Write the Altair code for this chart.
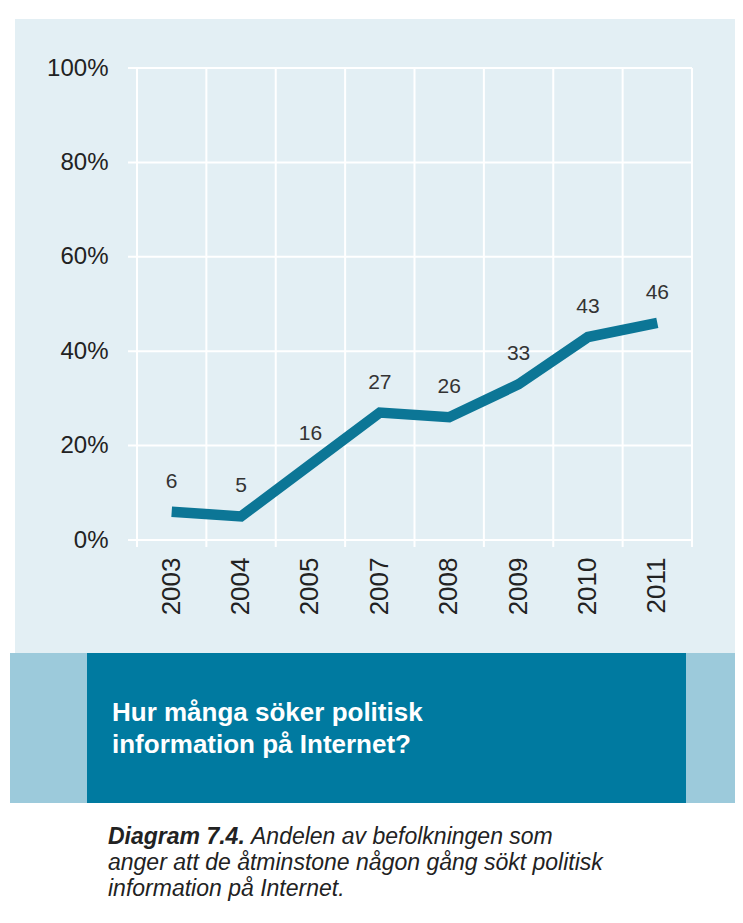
import altair as alt
import pandas as pd

years = ["2003", "2004", "2005", "2007", "2008", "2009", "2010", "2011"]
values = [6, 5, 16, 27, 26, 33, 43, 46]
y_ticks = [0, 20, 40, 60, 80, 100]
title_lines = ["Hur många söker politisk", "information på Internet?"]
caption_bold = "Diagram 7.4."
caption_first = "Andelen av befolkningen som"
caption_rest = ["anger att de åtminstone någon gång sökt politisk", "information på Internet."]

df = pd.DataFrame({"year": years, "value": values})
ticks_df = pd.DataFrame({"tick": y_ticks})
last_df = df.tail(1)

W, H = 555, 472
FONT = "Liberation Sans"
PANEL = "#e3eff4"
STRIP = "#9ccadb"
BAND = "#007aa0"
LINE = "#0c7696"
TXT = "#222222"

x_axis = alt.Axis(title=None, labelAngle=-90, ticks=False, domain=False, grid=False,
                  labelPadding=17, labelFontSize=26, labelColor=TXT, labelFont=FONT, zindex=1)
x_scale = alt.Scale(type="band", paddingInner=0, paddingOuter=0)
y_scale = alt.Scale(domain=[0, 100], nice=False)
y_axis = alt.Axis(title=None, values=y_ticks, ticks=False, domain=False, grid=False,
                  labelExpr="datum.value + '%'", labelPadding=29, labelFontSize=24,
                  labelColor=TXT, labelFont=FONT, zindex=1)

one = alt.Data(values=[{}])

panel = alt.Chart(one).mark_rect(color=PANEL).encode(
    x=alt.value(-122), x2=alt.value(598), y=alt.value(-49), y2=alt.value(585))
strip = alt.Chart(one).mark_rect(color=STRIP).encode(
    x=alt.value(-127), x2=alt.value(598), y=alt.value(585), y2=alt.value(735))
band = alt.Chart(one).mark_rect(color=BAND).encode(
    x=alt.value(-50), x2=alt.value(549), y=alt.value(585), y2=alt.value(735))

vrules = alt.Chart(df).mark_rule(color="white", strokeWidth=2).encode(
    x=alt.X("year:N", sort=years, scale=x_scale, axis=x_axis, bandPosition=0),
    y=alt.value(0), y2=alt.value(H + 7))
vrule_end = alt.Chart(last_df).mark_rule(color="white", strokeWidth=2).encode(
    x=alt.X("year:N", sort=years, scale=x_scale, axis=x_axis, bandPosition=1),
    y=alt.value(0), y2=alt.value(H + 7))
hrules = alt.Chart(ticks_df).mark_rule(color="white", strokeWidth=2).encode(
    y=alt.Y("tick:Q", scale=y_scale, axis=y_axis),
    x=alt.value(-9), x2=alt.value(W))

line = alt.Chart(df).mark_line(color=LINE, strokeWidth=10.5).encode(
    x=alt.X("year:N", sort=years, scale=x_scale, axis=x_axis),
    y=alt.Y("value:Q", scale=y_scale, axis=y_axis))
labels = alt.Chart(df).mark_text(dy=-30, fontSize=21, color="#333333", font=FONT).encode(
    x=alt.X("year:N", sort=years, scale=x_scale, axis=x_axis),
    y=alt.Y("value:Q", scale=y_scale, axis=y_axis),
    text="value:Q")

title = alt.Chart(one).mark_text(text=title_lines, align="left", baseline="alphabetic",
                                 fontSize=26, fontWeight="bold", font=FONT, color="white",
                                 lineHeight=32).encode(
    x=alt.value(-25), y=alt.value(653))
cap1 = alt.Chart(one).mark_text(text=caption_bold, align="left", baseline="alphabetic",
                                fontSize=23, fontWeight="bold", fontStyle="italic",
                                font=FONT, color=TXT).encode(x=alt.value(-29), y=alt.value(776))
cap2 = alt.Chart(one).mark_text(text=caption_first, align="left", baseline="alphabetic",
                                fontSize=23, fontStyle="italic",
                                font=FONT, color=TXT).encode(x=alt.value(114), y=alt.value(776))
cap3 = alt.Chart(one).mark_text(text=caption_rest, align="left", baseline="alphabetic",
                                fontSize=23, fontStyle="italic", lineHeight=26,
                                font=FONT, color=TXT).encode(x=alt.value(-29), y=alt.value(802))

chart = alt.layer(panel, strip, band, vrules, vrule_end, hrules, line, labels,
                  title, cap1, cap2, cap3).properties(
    width=W, height=H,
    autosize=alt.AutoSizeParams(type="none"),
    padding={"left": 129, "top": 60, "right": 43, "bottom": 375},
    background="white",
).configure_view(stroke=None)

chart.save("out.html", embed_options={"renderer": "svg", "actions": False})
